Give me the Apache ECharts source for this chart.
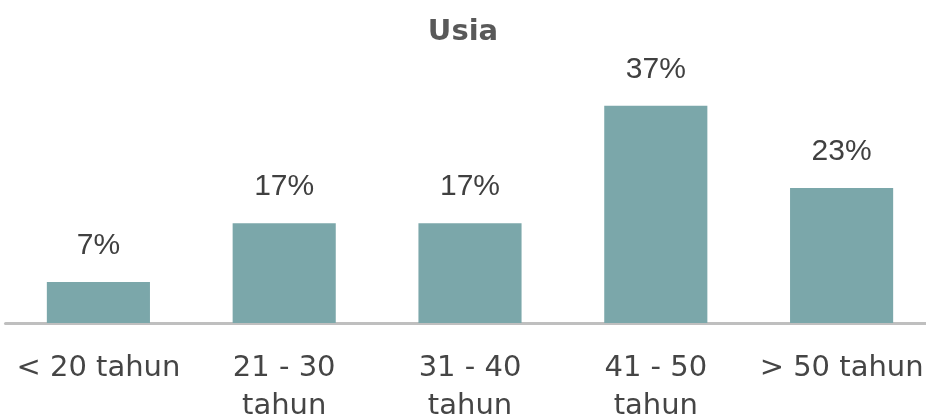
<!DOCTYPE html>
<html>
<head>
<meta charset="utf-8">
<script src="https://cdn.jsdelivr.net/npm/echarts@6/dist/echarts.min.js"></script>
<style>
  html, body { margin: 0; padding: 0; background: #fff; }
  #main { width: 926px; height: 419px; }
</style>
</head>
<body>
<div id="main"></div>
<script>
// kategori usia
var categories = ["< 20 tahun", "21 - 30\ntahun", "31 - 40\ntahun", "41 - 50\ntahun", "> 50 tahun"];
// persentase responden
var values = [7, 17, 17, 37, 23];

var myChart = echarts.init(document.getElementById("main"));
var option = {
  animation: false,
  title: {
    text: "Usia",
    left: "center",
    top: 13,
    textStyle: {
      fontFamily: "DejaVu Sans",
      fontSize: 29,
      fontWeight: "bold",
      color: "#595959"
    }
  },
  grid: {
    left: 5.5,
    right: -8.5,
    top: 88,
    bottom: 96,
    outerBoundsMode: "none",
    containLabel: false
  },
  xAxis: {
    type: "category",
    data: categories,
    axisLine: { lineStyle: { color: "#bfbfbf", width: 3 } },
    axisTick: { show: false },
    axisLabel: {
      interval: 0,
      margin: 26,
      fontFamily: "DejaVu Sans",
      fontSize: 29,
      lineHeight: 38,
      color: "#454545"
    }
  },
  yAxis: {
    type: "value",
    min: 0,
    max: 40,
    show: false
  },
  series: [
    {
      type: "bar",
      data: values,
      barWidth: "55.5%",
      itemStyle: { color: "#7ba7aa" },
      label: {
        show: true,
        position: "top",
        distance: 21,
        formatter: "{c}%",
        fontFamily: "Liberation Sans",
        fontSize: 30,
        color: "#404040"
      }
    }
  ]
};
myChart.setOption(option);
</script>
</body>
</html>
